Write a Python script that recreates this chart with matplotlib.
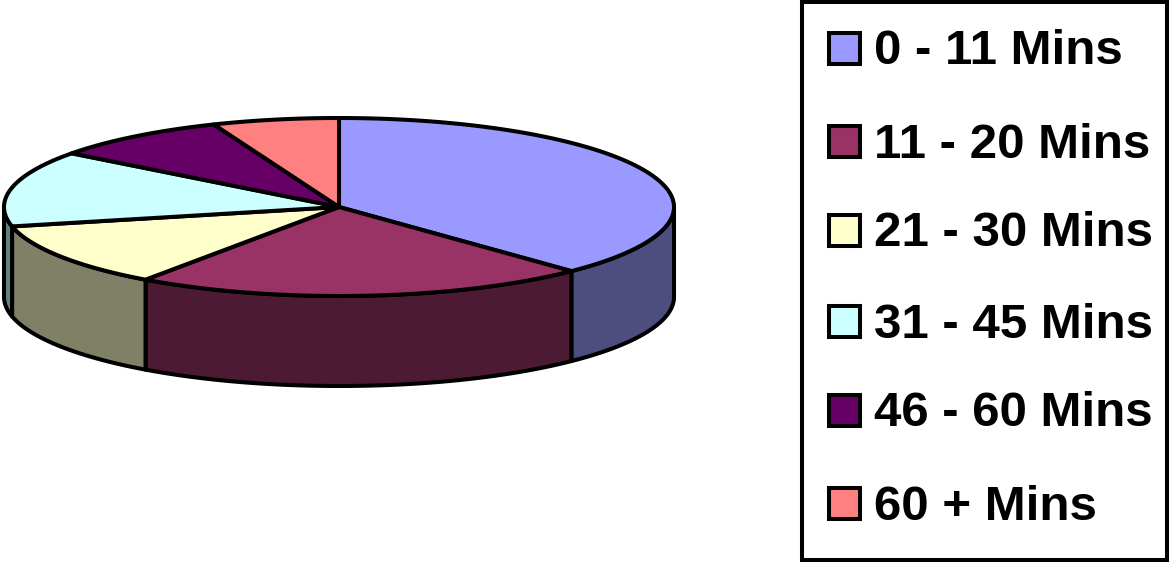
import numpy as np
import matplotlib
matplotlib.use("Agg")
import matplotlib.pyplot as plt
from matplotlib.patches import Polygon, Rectangle

labels = ["0 - 11 Mins", "11 - 20 Mins", "21 - 30 Mins", "31 - 45 Mins", "46 - 60 Mins", "60 + Mins"]
values = [37.8, 22.0, 11.7, 13.8, 8.6, 6.1]
top_colors = ["#9999FF", "#993366", "#FFFFCC", "#CCFFFF", "#660066", "#FF8080"]
side_colors = ["#4D4D80", "#4D1A33", "#808066", "#668080", "#330033", "#804040"]

W, H = 1171, 562
CX, CY = 339, 207
RX, RY = 335, 89
DEPTH = 90
LW = 2.9


def rim(t):
    # t is degrees clockwise from 12 o'clock
    r = np.radians(t)
    return CX + RX * np.sin(r), CY - RY * np.cos(r)


fig = plt.figure(figsize=(W / 100, H / 100), dpi=100)
ax = fig.add_axes([0, 0, 1, 1])
ax.set_xlim(0, W)
ax.set_ylim(H, 0)
ax.axis("off")

edges = np.cumsum([0] + values) / sum(values) * 360

# side walls first, only the front half of the rim shows
for i in range(len(values)):
    a, b = max(edges[i], 90), min(edges[i + 1], 270)
    if a >= b:
        continue
    t = np.linspace(a, b, 80)
    x, y = rim(t)
    pts = np.r_[np.c_[x, y], np.c_[x[::-1], y[::-1] + DEPTH]]
    ax.add_patch(Polygon(pts, fc=side_colors[i], ec="black", lw=LW, joinstyle="round"))

for i in range(len(values)):
    t = np.linspace(edges[i], edges[i + 1], 120)
    x, y = rim(t)
    pts = np.r_[[[CX, CY]], np.c_[x, y]]
    ax.add_patch(Polygon(pts, fc=top_colors[i], ec="black", lw=LW, joinstyle="round"))

# legend
ax.add_patch(Rectangle((802, 2), 365, 558, fc="white", ec="black", lw=LW))
rows = [47, 140, 229, 320, 409, 502]
for lab, col, yy in zip(labels, top_colors, rows):
    ax.add_patch(Rectangle((829, yy - 14), 31, 31, fc=col, ec="black", lw=LW))
    ax.text(874, yy, lab, family="Liberation Sans", weight="bold", fontsize=35.5,
            va="center_baseline", ha="left", color="black")

fig.savefig("out.png", dpi=100, facecolor="white")
